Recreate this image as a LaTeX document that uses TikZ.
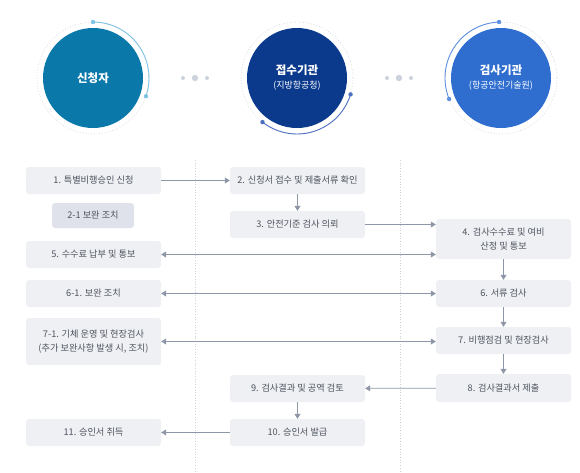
\documentclass[tikz,border=0pt]{standalone}
\usepackage{fontspec}
\setmainfont{Noto Sans CJK KR}
\usetikzlibrary{arrows.meta}

\definecolor{boxfill}{HTML}{EEF0F4}
\definecolor{boxdark}{HTML}{DFE2EA}
\definecolor{boxtext}{HTML}{4F545E}
\definecolor{linegray}{HTML}{8E97A7}
\definecolor{ringgray}{HTML}{CDD3DC}
\definecolor{teal}{HTML}{0A79AA}
\definecolor{navy}{HTML}{0B3A8D}
\definecolor{sky}{HTML}{2F6ECF}
\definecolor{tealarc}{HTML}{7FC2E4}
\definecolor{navyarc}{HTML}{4C6FC2}
\definecolor{skyarc}{HTML}{5D90E2}

\tikzset{
  box/.style={fill=boxfill, rounded corners=3pt, minimum width=135pt, minimum height=27pt,
    inner sep=0pt, align=center, text=boxtext, font=\fontsize{9.2}{14}\selectfont},
  hub/.style={circle, minimum size=100pt, inner sep=0pt, text=white, align=center,
    font=\fontsize{11.5}{15}\selectfont\bfseries},
  ring/.style={ringgray, dotted, line width=0.7pt},
  flow/.style={linegray, line width=0.7pt, -{Triangle[length=5pt,width=6pt]}},
  both/.style={linegray, line width=0.7pt, {Triangle[length=5pt,width=6pt]}-{Triangle[length=5pt,width=6pt]}},
  dot/.style={fill=ringgray, draw=none}
}

\begin{document}
\begin{tikzpicture}[x=1pt,y=-1pt]
    \useasboundingbox (0,0) rectangle (580,472);

    % lanes
    \draw[ring] (195,160) -- (195,472);
    \draw[ring] (400,160) -- (400,472);

    % three parties
    \draw[ring] (93,78) circle[radius=56];
    \node[hub, fill=teal] (c1) at (93,78) {신청자};
    \draw[tealarc, line width=0.9pt] (93,78) ++(-90:56) arc[start angle=-90, end angle=19, radius=56];
    \fill[tealarc] (93,78) ++(-90:56) circle (2.2) (93,78) ++(19:56) circle (2.2);

    \draw[ring] (297,78) circle[radius=56];
    \node[hub, fill=navy] (c2) at (297,78) {접수기관\\[-1pt]{\fontsize{9}{12}\selectfont\mdseries(지방항공청)}};
    \draw[navyarc, line width=0.9pt] (297,78) ++(17:56) arc[start angle=17, end angle=128, radius=56];
    \fill[navyarc] (297,78) ++(17:56) circle (2.2) (297,78) ++(128:56) circle (2.2);

    \draw[ring] (501,78) circle[radius=56];
    \node[hub, fill=sky] (c3) at (501,78) {검사기관\\[-1pt]{\fontsize{9}{12}\selectfont\mdseries(항공안전기술원)}};
    \draw[skyarc, line width=0.9pt] (501,78) ++(-92:56) arc[start angle=-92, end angle=-202, radius=56];
    \fill[skyarc] (501,78) ++(-92:56) circle (2.2) (501,78) ++(-202:56) circle (2.2);

    % dots in between
    \fill[dot] (183,78) circle (2) (195,78) circle (3.2) (207,78) circle (2);
    \fill[dot] (387,78) circle (2) (399,78) circle (3.2) (411,78) circle (2);

    % applicant
    \node[box] (n1) at (93.5,180.5) {1. 특별비행승인 신청};
    \node[box, fill=boxdark, minimum width=82pt, minimum height=25pt] (n21) at (93,215.5) {2-1 보완 조치};
    \node[box] (n5) at (93.5,254.5) {5. 수수료 납부 및 통보};
    \node[box] (n61) at (93.5,293.5) {6-1. 보완 조치};
    \node[box, minimum height=47pt] (n71) at (93.5,341.5) {7-1. 기체 운영 및 현장검사\\(추가 보완사항 발생 시, 조치)};
    \node[box] (n11) at (93.5,432.5) {11. 승인서 취득};

    % office
    \node[box] (n2) at (297.5,180.5) {2. 신청서 접수 및 제출서류 확인};
    \node[box] (n3) at (297.5,224.5) {3. 안전기준 검사 의뢰};
    \node[box] (n9) at (297.5,388.5) {9. 검사결과 및 공역 검토};
    \node[box] (n10) at (297.5,432.5) {10. 승인서 발급};

    % inspector
    \node[box, minimum height=40pt] (n4) at (503.5,239) {4. 검사수수료 및 여비\\산정 및 통보};
    \node[box] (n6) at (503.5,293.5) {6. 서류 검사};
    \node[box] (n7) at (503.5,340.5) {7. 비행점검 및 현장검사};
    \node[box, minimum height=28pt] (n8) at (503.5,388) {8. 검사결과서 제출};

    % flow
    \draw[flow] (n1) -- (n2);
    \draw[flow] (n2) -- (n3);
    \draw[flow] (n3.east) -- (n3.east -| n4.west);
    \draw[both] (n5.east) -- (n5.east -| n4.west);
    \draw[flow] (n4) -- (n6);
    \draw[both] (n61) -- (n6);
    \draw[flow] (n6) -- (n7);
    \draw[both] (n71.east) -- (n71.east -| n7.west);
    \draw[flow] (n7) -- (n8);
    \draw[flow] (n8) -- (n9);
    \draw[flow] (n9) -- (n10);
    \draw[flow] (n10) -- (n11);
\end{tikzpicture}
\end{document}
